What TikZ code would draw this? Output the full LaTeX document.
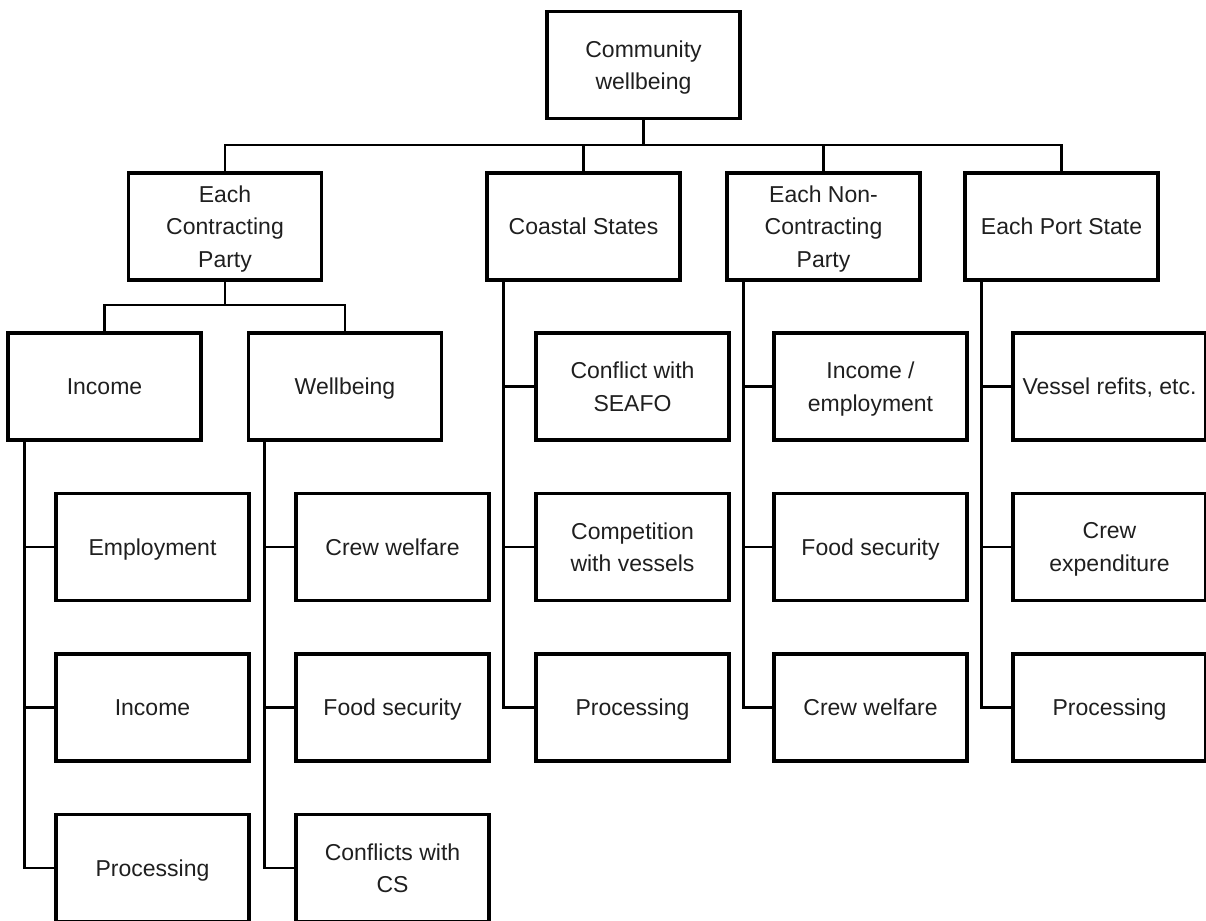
\documentclass[tikz,border=0pt]{standalone}
\usepackage{fontspec}
\setmainfont{Liberation Sans}
\begin{document}
\begin{tikzpicture}[x=1pt,y=-1pt,
  box/.style={draw, line width=3.6pt, minimum width=193pt, minimum height=107pt,
    inner sep=0pt, align=center, text depth=0pt, text=black!88,
    font=\fontsize{23}{32.5}\selectfont},
  link/.style={line width=2.6pt}]
\useasboundingbox (0,0) rectangle (1206,920);

% root
\node[box] (top) at (643.5,65) {Community\\wellbeing};

% second level
\node[box] (cp) at (225,226.5)   {Each\\Contracting\\Party};
\node[box] (cs) at (583.5,226.5) {Coastal States};
\node[box] (nc) at (823.5,226.5) {Each Non-\\Contracting\\Party};
\node[box] (ps) at (1061.5,226.5) {Each Port State};

% third level under each contracting party
\node[box] (inc) at (104.5,386.5) {Income};
\node[box] (wb)  at (345,386.5)   {Wellbeing};

% leaves: income
\node[box] (inc1) at (152.5,547)   {Employment};
\node[box] (inc2) at (152.5,707.5) {Income};
\node[box] (inc3) at (152.5,868)   {Processing};
% leaves: wellbeing
\node[box] (wb1) at (392.5,547)   {Crew welfare};
\node[box] (wb2) at (392.5,707.5) {Food security};
\node[box] (wb3) at (392.5,868)   {Conflicts with\\CS};
% leaves: coastal states
\node[box] (cs1) at (632.5,386.5) {Conflict with\\SEAFO};
\node[box] (cs2) at (632.5,547)   {Competition\\with vessels};
\node[box] (cs3) at (632.5,707.5) {Processing};
% leaves: non-contracting party
\node[box] (nc1) at (870.5,386.5) {Income /\\employment};
\node[box] (nc2) at (870.5,547)   {Food security};
\node[box] (nc3) at (870.5,707.5) {Crew welfare};
% leaves: port state
\node[box] (ps1) at (1109.5,386.5) {Vessel refits, etc.};
\node[box] (ps2) at (1109.5,547)   {Crew\\expenditure};
\node[box] (ps3) at (1109.5,707.5) {Processing};

% bus below the root
\coordinate (bus) at (643.5,145);
\draw[link] (top.south) -- (top.south |- bus);
\draw[link] (cp.north) -- (cp.north |- bus) -- (ps.north |- bus) -- (ps.north);
\draw[link] (cs.north) -- (cs.north |- bus);
\draw[link] (nc.north) -- (nc.north |- bus);

% bus below each contracting party
\coordinate (cpbus) at (225,305);
\draw[link] (cp.south) -- (cp.south |- cpbus);
\draw[link] (inc.north) -- (inc.north |- cpbus) -- (wb.north |- cpbus) -- (wb.north);

% spines to leaves
\foreach \p/\a/\b/\c in {inc/inc1/inc2/inc3, wb/wb1/wb2/wb3, cs/cs1/cs2/cs3, nc/nc1/nc2/nc3, ps/ps1/ps2/ps3}{
  \draw[link] ([xshift=18pt]\p.south west) |- (\a.west);
  \draw[link] ([xshift=18pt]\p.south west) |- (\b.west);
  \draw[link] ([xshift=18pt]\p.south west) |- (\c.west);
}
\end{tikzpicture}
\end{document}
